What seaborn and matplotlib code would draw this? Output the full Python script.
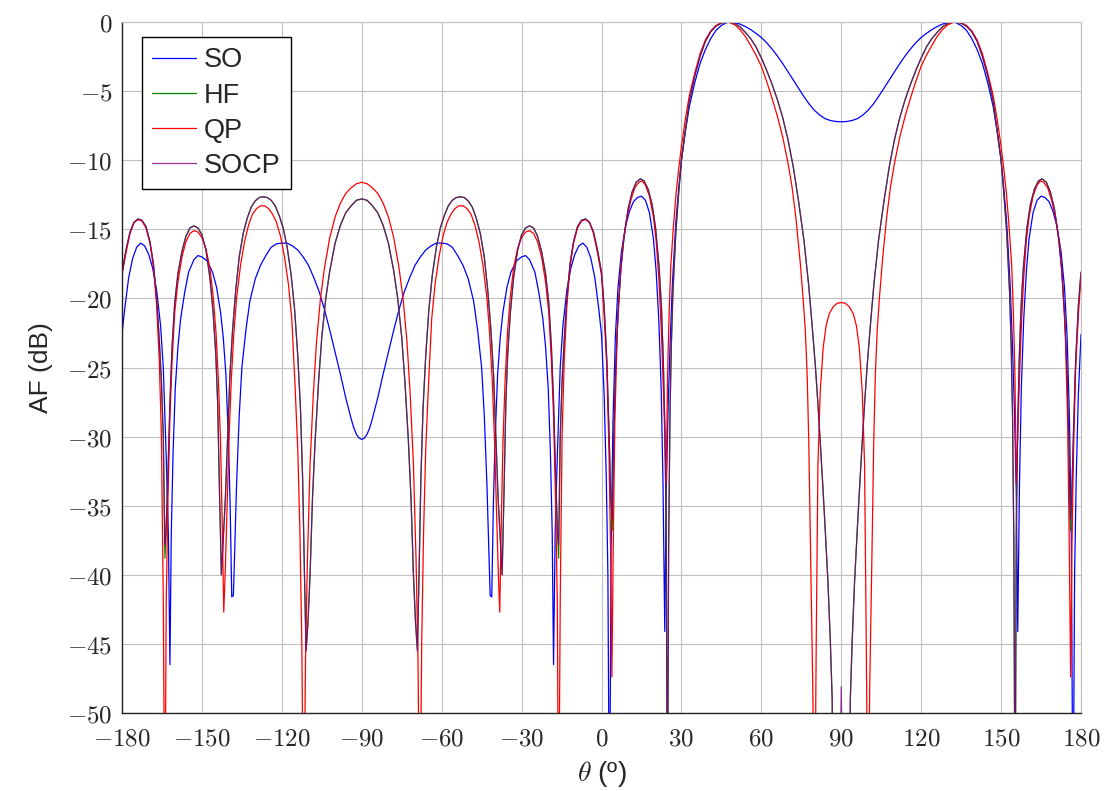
import numpy as np
import pandas as pd
import seaborn as sns
import matplotlib
matplotlib.use("Agg")
import matplotlib.pyplot as plt

# Pattern for theta in [-90, 90] (deg, dB).
# The rest of the plot is the mirror image about +-90 deg.
so_theta = [-90, -89, -88, -87, -86, -84, -82, -80, -78, -76, -74, -72, -70, -68, -66, -64,
            -62, -60, -58, -56, -54, -52, -50, -48, -46.5, -45, -44, -43, -42.2, -41.8,
            -41.2, -40.6, -40, -39, -38, -37, -35.5, -34, -32, -30, -28.5, -27, -25, -23.5,
            -22, -21, -20, -19.2, -18.5, -18, -17.4, -16.6, -15.5, -14.5, -13, -11.5, -10,
            -8.5, -7, -5.5, -4, -2.5, -1, 0, 1, 1.8, 2.4, 3, 3.6, 4.3, 5.2, 6.2, 7.5, 9, 10.5,
            12, 13.5, 15, 16.5, 18, 19.5, 20.5, 21.5, 22.4, 23.1, 23.75, 24.3, 25, 25.8, 26.6,
            27.9, 29, 30, 31.5, 33, 35, 37, 39, 41, 43, 45, 47, 48.5, 50, 52, 54, 56, 58, 60,
            62, 64, 66, 68, 70, 72, 74, 76, 78, 80, 82, 84, 86, 88, 90]
so_db = [-30.2, -30.11, -29.83, -29.36, -28.7, -27.2, -25.5, -23.9, -22.3, -20.8, -19.5, -18.5,
         -17.6, -17.0, -16.5, -16.2, -16.0, -16.0, -16.05, -16.3, -16.9, -17.6, -18.6, -20.2,
         -22.3, -25.0, -28.5, -33.5, -39.0, -41.5, -41.6, -35.0, -30.5, -25.5, -22.8, -21.0,
         -19.2, -18.1, -17.3, -17.0, -16.9, -17.2, -18.1, -19.6, -21.5, -23.5, -26.5, -31.0,
         -37.0, -46.5, -37.0, -31.5, -25.0, -22.0, -19.4, -17.8, -16.8, -16.2, -16.0, -16.3,
         -17.1, -18.5, -20.8, -22.6, -27.0, -33.0, -40.0, -60.0, -38.0, -29.0, -22.8, -19.2,
         -16.6, -14.8, -13.7, -13.0, -12.7, -12.6, -12.9, -13.8, -15.7, -18.0, -21.5, -26.5,
         -33.5, -44.1, -34.0, -28.0, -23.0, -19.0, -14.5, -12.0, -10.0, -7.9, -6.1, -4.4,
         -3.0, -2.0, -1.2, -0.6, -0.25, -0.05, 0.0, -0.05, -0.15, -0.33, -0.55, -0.82, -1.12,
         -1.5, -1.95, -2.45, -3.0, -3.6, -4.2, -4.8, -5.4, -5.95, -6.4, -6.75, -7.0, -7.13,
         -7.2, -7.22]

qp_theta = [-90, -88, -86, -84, -82, -80, -78, -76, -74.5, -73, -71.8, -70.6, -69.6, -68.9,
            -68.2, -67.5, -66.8, -66, -65, -63.75, -62.5, -61, -59.5, -58, -56.5, -55, -53.5,
            -52, -50.5, -49, -47.5, -46, -44.5, -43, -42, -41, -40.2, -39.4, -38.8, -38.2,
            -37.6, -37, -36.2, -35.3, -34.3, -33, -31.5, -30, -28.5, -27, -25.5, -24, -22.5,
            -21, -19.8, -18.8, -18, -17.2, -16.6, -16.1, -15.5, -14.8, -14, -13, -11.8, -10.5,
            -9, -7.5, -6, -4.5, -3, -1.5, 0, 1, 2, 2.8, 3.4, 3.9, 4.4, 5, 5.9, 7, 8, 9.5, 11,
            12.5, 14, 15.2, 16.5, 18, 19.5, 20.6, 21.6, 22.5, 23.3, 23.9, 24.3, 24.8, 25.4, 26,
            27, 28, 29, 30, 31.5, 33, 35, 37, 39, 41, 43, 45, 47.5, 50, 52, 54, 56, 58, 60, 62,
            64, 66, 68, 70, 71.5, 73, 74.6, 75.6, 76.5, 77.2, 77.8, 78.6, 79.3, 80, 80.6,
            81.25, 82.1, 83.2, 84.3, 85.5, 87, 88.5, 90]
qp_db = [-11.6, -11.7, -12.0, -12.4, -13.1, -14.1, -15.6, -17.8, -20.0, -23.2, -27.0, -32.0,
         -39.0, -46.0, -60.0, -45.0, -37.0, -31.0, -26.5, -21.5, -19.0, -17.0, -15.5, -14.5,
         -13.9, -13.5, -13.3, -13.3, -13.5, -13.9, -14.7, -15.9, -17.6, -20.0, -22.5, -26.0,
         -30.0, -35.5, -39.5, -42.7, -36.0, -30.5, -26.0, -22.5, -20.0, -17.8, -16.4, -15.6,
         -15.2, -15.1, -15.3, -15.9, -17.0, -18.8, -21.0, -24.5, -28.5, -35.0, -42.0, -60.0,
         -42.0, -30.0, -24.5, -20.5, -17.7, -16.0, -14.9, -14.4, -14.3, -14.5, -15.3, -16.7,
         -18.3, -21.2, -25.0, -31.0, -38.0, -47.4, -38.0, -29.0, -22.5, -18.5, -16.2, -14.2,
         -12.9, -12.0, -11.6, -11.5, -11.8, -12.6, -14.1, -16.0, -18.8, -22.5, -27.0, -31.0,
         -33.4, -25.5, -21.0, -17.7, -14.8, -12.4, -10.6, -9.0, -7.0, -5.3, -3.7, -2.3, -1.3,
         -0.65, -0.25, -0.05, 0.0, -0.2, -0.55, -1.05, -1.7, -2.4, -3.2, -4.3, -5.5, -6.8,
         -8.3, -10.2, -11.9, -14.2, -17.4, -19.8, -22.3, -25.5, -30.3, -40.0, -48.0, -60.0,
         -45.0, -32.0, -26.8, -23.6, -22.0, -21.1, -20.6, -20.35, -20.3]

# HF and SOCP lie on top of each other, apart from the depth of a few nulls
ph_theta = [-90, -88, -86, -84, -82, -80, -78, -76.5, -75, -73.8, -72.5, -71.5, -70.6, -69.8,
            -69.1, -68.5, -67.8, -67, -66, -64.8, -63.5, -62, -60.5, -59, -57.5, -56, -54.5,
            -53, -51.5, -50, -48.5, -47, -45.5, -44, -42.7, -41.5, -40.5, -39.6, -38.8, -38,
            -37.3, -36.6, -35.9, -35.2, -34.2, -33, -31.5, -30, -28.5, -27, -25.5, -24, -22.5,
            -21, -19.8, -18.8, -18, -17.2, -16.5, -16.1, -15.5, -14.8, -14, -13, -11.8, -10.5,
            -9, -7.5, -6, -4.5, -3, -1.5, 0, 1, 2, 2.8, 3.5, 4, 4.6, 5.3, 6.2, 7.3, 8.5, 10,
            11.5, 13, 14.6, 16, 17.5, 19, 20.3, 21.6, 22.5, 23.2, 23.8, 24.3, 24.75, 25.2, 25.7,
            26.2, 26.8, 27.9, 29, 30, 31.5, 33, 35, 37, 39, 41, 43, 45, 47.9, 50, 52, 54, 56,
            58, 60, 62, 64, 66, 68, 70, 72, 74, 76, 77.75, 79, 80.25, 81.2, 82.1, 83, 84, 85,
            85.9, 86.6, 87, 89.3, 90]
socp_db = [-12.8, -12.9, -13.3, -13.8, -14.7, -16.0, -18.0, -20.0, -22.8, -26.0, -30.3, -34.5,
           -40.0, -43.5, -45.5, -40.0, -33.0, -28.0, -24.2, -20.8, -18.3, -16.3, -14.9, -14.0,
           -13.3, -12.9, -12.7, -12.65, -12.7, -12.95, -13.4, -14.2, -15.3, -17.0, -19.4,
           -22.3, -25.6, -30.3, -34.5, -37.5, -40.0, -34.0, -27.5, -24.0, -21.0, -18.5, -16.5,
           -15.4, -14.9, -14.75, -14.9, -15.5, -16.6, -18.2, -20.3, -23.5, -27.5, -33.0,
           -37.0, -37.8, -30.0, -26.0, -23.0, -20.0, -17.5, -15.9, -14.8, -14.35, -14.25,
           -14.5, -15.2, -16.5, -18.1, -20.6, -24.5, -29.5, -34.5, -36.0, -30.0, -25.0, -21.0,
           -17.8, -15.5, -13.5, -12.3, -11.6, -11.35, -11.5, -12.1, -13.2, -14.9, -17.7,
           -20.6, -24.5, -29.5, -37.0, -60.0, -38.0, -28.5, -23.5, -19.6, -15.2, -12.3, -10.0,
           -7.8, -5.7, -3.9, -2.5, -1.4, -0.7, -0.3, -0.08, 0.0, -0.1, -0.35, -0.75, -1.2,
           -1.8, -2.6, -3.5, -4.5, -5.6, -6.9, -8.5, -10.5, -13.0, -15.8, -19.0, -21.8, -24.8,
           -27.5, -30.3, -33.3, -36.8, -40.5, -44.8, -49.0, -60.0, -60.0, -48.1]
hf_db = [-12.8, -12.9, -13.3, -13.8, -14.7, -16.0, -18.0, -20.0, -22.8, -26.0, -30.3, -34.5,
         -40.0, -43.5, -45.5, -40.0, -33.0, -28.0, -24.2, -20.8, -18.3, -16.3, -14.9, -14.0,
         -13.3, -12.9, -12.7, -12.65, -12.7, -12.95, -13.4, -14.2, -15.3, -17.0, -19.4,
         -22.3, -25.6, -30.3, -34.5, -37.5, -40.0, -34.0, -27.5, -24.0, -21.0, -18.5, -16.5,
         -15.4, -14.9, -14.75, -14.9, -15.5, -16.6, -18.2, -20.3, -23.5, -27.5, -33.0,
         -37.0, -38.8, -30.0, -26.0, -23.0, -20.0, -17.5, -15.9, -14.8, -14.35, -14.25,
         -14.5, -15.2, -16.5, -18.1, -20.6, -24.5, -29.5, -34.5, -36.8, -30.0, -25.0, -21.0,
         -17.8, -15.5, -13.5, -12.3, -11.6, -11.35, -11.5, -12.1, -13.2, -14.9, -17.7,
         -20.6, -24.5, -29.5, -37.0, -60.0, -38.0, -28.5, -23.5, -19.6, -15.2, -12.3, -10.0,
         -7.8, -5.7, -3.9, -2.5, -1.4, -0.7, -0.3, -0.08, 0.0, -0.1, -0.35, -0.75, -1.2,
         -1.8, -2.6, -3.5, -4.5, -5.6, -6.9, -8.5, -10.5, -13.0, -15.8, -19.0, -21.8, -24.8,
         -27.5, -30.3, -33.3, -36.8, -40.5, -44.8, -49.0, -60.0, -60.0, -60.0]

methods = ["SO", "HF", "QP", "SOCP"]
colors = ["#0000ff", "#008000", "#ff0000", "#800080"]
x_ticks = list(range(-180, 181, 30))
y_ticks = list(range(-50, 1, 5))


def unfold(theta, db):
    # mirror the [-90, 90] half about -90 and +90
    theta = np.asarray(theta, dtype=float)
    db = np.asarray(db, dtype=float)
    left = (theta > -90) & (theta <= 0)
    right = (theta >= 0) & (theta < 90)
    th = np.concatenate([-180 - theta[left], theta, 180 - theta[right]])
    v = np.concatenate([db[left], db, db[right]])
    order = np.argsort(th, kind="stable")
    return th[order], v[order]


frames = []
for name, th, db in [("SO", so_theta, so_db), ("HF", ph_theta, hf_db),
                     ("QP", qp_theta, qp_db), ("SOCP", ph_theta, socp_db)]:
    t, v = unfold(th, db)
    frames.append(pd.DataFrame({"theta": t, "af": v, "method": name}))
df = pd.concat(frames, ignore_index=True)

sns.set_theme(style="white")
plt.rcParams["font.family"] = ["Liberation Sans", "DejaVu Sans"]
plt.rcParams["mathtext.fontset"] = "cm"

fig = plt.figure(figsize=(11.09, 7.91), dpi=100)
ax = fig.add_axes([122 / 1109, 1 - 713 / 791, 959 / 1109, 691 / 791])

sns.lineplot(data=df, x="theta", y="af", hue="method", hue_order=methods,
             palette=colors, estimator=None, sort=True, linewidth=0.9,
             legend=False, ax=ax)
ax.lines[3].set_alpha(0.8)

ax.set_xlim(-180, 180)
ax.set_ylim(-50, 0)
ax.set_xticks(x_ticks)
ax.set_yticks(y_ticks)
ax.set_xticklabels([f"${t}$" for t in x_ticks], fontsize=18)
ax.set_yticklabels([f"${t}$" for t in y_ticks], fontsize=18)
ax.grid(True, color="#c0c0c0", linewidth=0.8)
ax.tick_params(direction="in", length=4, width=0.8, color="#555555")
ax.tick_params(axis="x", pad=10)
ax.tick_params(axis="y", pad=7)
for side in ["top", "right"]:
    ax.spines[side].set_color("#c0c0c0")
    ax.spines[side].set_linewidth(0.8)
for side in ["left", "bottom"]:
    ax.spines[side].set_color("#222222")
    ax.spines[side].set_linewidth(1.0)

ax.set_xlabel(r"$\theta$ (º)", fontsize=20, labelpad=6)
ax.set_ylabel("AF (dB)", fontsize=19, labelpad=10)

leg = ax.legend(ax.lines[:4], methods, loc="upper left",
                bbox_to_anchor=(20 / 959, 1 - 15 / 691), borderaxespad=0,
                fancybox=False, framealpha=1, edgecolor="black",
                handlelength=1.6, handletextpad=0.3, labelspacing=0.34,
                borderpad=0.38, prop={"family": "Liberation Sans", "size": 19.5})
leg.get_frame().set_linewidth(1.0)

fig.savefig("out.png", dpi=100)
